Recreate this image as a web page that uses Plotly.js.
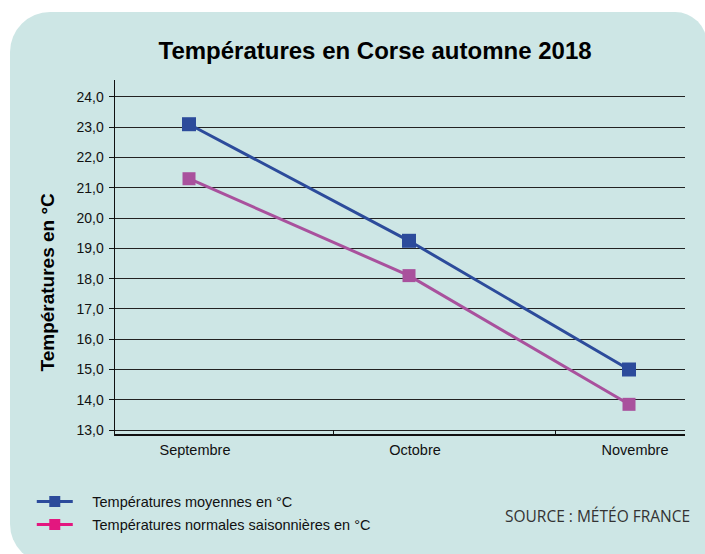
<!DOCTYPE html>
<html>
<head>
<meta charset="utf-8">
<script src="https://cdn.plot.ly/plotly-3.0.1.min.js"></script>
<style>
  html, body { margin: 0; padding: 0; background: #ffffff; width: 705px; height: 554px; overflow: hidden; }
  #bg { position: absolute; left: 10px; top: 12px; width: 697px; height: 552px;
        background: #cde6e5; border-radius: 40px 32px 0 40px; }
  #chart { position: absolute; left: 0; top: 0; width: 705px; height: 554px; }
</style>
</head>
<body>
<div id="bg"></div>
<div id="chart"></div>
<script>
// Data
const months = ["Septembre", "Octobre", "Novembre"];
const monthIndex = [0, 1, 2];
const moyennes = [23.1, 19.25, 15.0];
const normales = [21.3, 18.1, 13.85];
const yTicks = [13, 14, 15, 16, 17, 18, 19, 20, 21, 22, 23, 24];
const seriesNames = ["Températures moyennes en °C", "Températures normales saisonnières en °C"];

const blue = "#2c4b9b";
const purple = "#a9519d";
const legendPink = "#e3177f";
const font = "Liberation Sans, Arial, sans-serif";

const xRange = [-0.3364, 2.2545];
const pad = "\u2002\u2002";

const traces = [
  {
    x: monthIndex, y: moyennes, type: "scatter", mode: "lines+markers",
    name: seriesNames[0], showlegend: false,
    line: { color: blue, width: 3 },
    marker: { symbol: "square", size: 14, color: blue }
  },
  {
    x: monthIndex, y: normales, type: "scatter", mode: "lines+markers",
    name: seriesNames[1], showlegend: false,
    line: { color: purple, width: 3 },
    marker: { symbol: "square", size: 13, color: purple }
  },
  {
    x: [null], y: [null], type: "scatter", mode: "lines+markers",
    name: pad + seriesNames[0], legend: "legend",
    line: { color: blue, width: 3 },
    marker: { symbol: "square", size: 11, color: blue }
  },
  {
    x: [null], y: [null], type: "scatter", mode: "lines+markers",
    name: pad + seriesNames[1], legend: "legend2",
    line: { color: legendPink, width: 3 },
    marker: { symbol: "square", size: 11, color: legendPink }
  },
  // carrier for the category boundary ticks on the overlay axis
  { x: [null], y: [null], xaxis: "x2", type: "scatter", showlegend: false, hoverinfo: "skip" }
];

const layout = {
  width: 705, height: 554,
  paper_bgcolor: "rgba(0,0,0,0)",
  plot_bgcolor: "rgba(0,0,0,0)",
  margin: { l: 115, r: 20, t: 80, b: 120 },
  separators: ", ",
  font: { family: font, color: "#111111", size: 14 },
  title: {
    text: "<b>Températures en Corse automne 2018</b>",
    font: { family: font, size: 24, color: "#000000" },
    x: 0.532, xref: "container", xanchor: "center",
    y: 0.909, yref: "container", yanchor: "middle"
  },
  xaxis: {
    range: xRange, fixedrange: true,
    tickvals: monthIndex, ticktext: months,
    ticks: "", showgrid: false, zeroline: false,
    showline: true, linecolor: "#111111", linewidth: 1.5,
    tickfont: { family: font, size: 14.5, color: "#111111" },
    ticklabelshift: 6, ticklabelstandoff: 2
  },
  xaxis2: {
    range: xRange, overlaying: "x", side: "bottom", fixedrange: true,
    tickvals: [0.659, 1.668, 2.2545], ticks: "inside", ticklen: 4,
    tickcolor: "#111111", tickwidth: 1,
    showticklabels: false, showgrid: false, zeroline: false, showline: false
  },
  yaxis: {
    range: [12.87, 24.56], fixedrange: true,
    tickvals: yTicks, tickformat: ".1f",
    ticks: "outside", ticklen: 5, tickcolor: "#111111", tickwidth: 1,
    showgrid: true, gridcolor: "#222222", gridwidth: 1,
    zeroline: false,
    showline: true, linecolor: "#111111", linewidth: 1.5,
    tickfont: { family: font, size: 14, color: "#111111" },
    ticklabelstandoff: 2
  },
  legend: {
    x: -0.146, xanchor: "left", y: -0.191, yanchor: "middle",
    bgcolor: "rgba(0,0,0,0)", borderwidth: 0,
    font: { family: font, size: 14.5, color: "#111111" },
    itemwidth: 36
  },
  legend2: {
    x: -0.146, xanchor: "left", y: -0.256, yanchor: "middle",
    bgcolor: "rgba(0,0,0,0)", borderwidth: 0,
    font: { family: font, size: 14.5, color: "#111111" },
    itemwidth: 36
  },
  annotations: [
    {
      text: "<b>Températures en °C</b>",
      xref: "paper", yref: "paper",
      x: -0.118, y: 0.43, xanchor: "center", yanchor: "middle",
      textangle: -90, showarrow: false,
      font: { family: font, size: 19, color: "#000000" }
    },
    {
      text: "SOURCE : MÉTÉO FRANCE",
      xref: "paper", yref: "paper",
      x: 1.0123, y: -0.232, xanchor: "right", yanchor: "middle",
      showarrow: false,
      font: { family: "Open Sans, sans-serif", size: 15.5, color: "#333333" }
    }
  ]
};

Plotly.newPlot("chart", traces, layout, { displayModeBar: false, staticPlot: true });
</script>
</body>
</html>
